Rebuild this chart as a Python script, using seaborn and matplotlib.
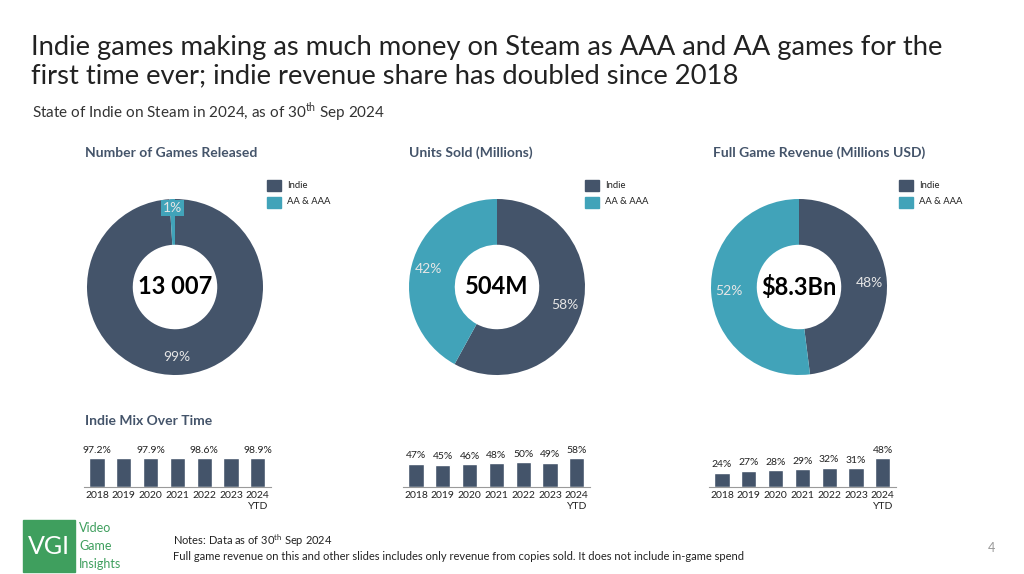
import matplotlib
matplotlib.use("Agg")
import matplotlib.pyplot as plt
import seaborn as sns
import pandas as pd
from matplotlib.patches import Rectangle


# ======================================
# DATA
# ======================================

SEGMENTS = ["Indie", "AA & AAA"]

games_share = [99, 1]
units_share = [58, 42]
revenue_share = [48, 52]

games_total = "13 007"
units_total = "504M"
revenue_total = "$8.3Bn"

YEARS = ["2018", "2019", "2020", "2021", "2022", "2023", "2024\nYTD"]

games_mix = [97.2, 97.6, 97.9, 98.2, 98.6, 98.8, 98.9]
units_mix = [47, 45, 46, 48, 50, 49, 58]
revenue_mix = [24, 27, 28, 29, 32, 31, 48]

# only every other label is printed for the games mix
games_mix_labels = ["97.2%", "", "97.9%", "", "98.6%", "", "98.9%"]
units_mix_labels = [f"{v}%" for v in units_mix]
revenue_mix_labels = [f"{v}%" for v in revenue_mix]


# ======================================
# STYLE
# ======================================

sns.set_style("white")
plt.rcParams["font.family"] = ["Lato", "DejaVu Sans"]
plt.rcParams["mathtext.fontset"] = "custom"
plt.rcParams["mathtext.rm"] = "Lato"

DARK = "#44546A"
TEAL = "#41A3B9"
GREEN = "#3F9F5E"
TEXT = "#222222"

W, H = 1024, 574
fig = plt.figure(figsize=(W / 100, H / 100), dpi=100)


def px_axes(left, top, width, height):
    # axes placed with pixel coordinates (top-left origin)
    return fig.add_axes([left / W, (H - top - height) / H, width / W, height / H])


def fig_text(x, y, s, **kw):
    fig.text(x / W, 1 - y / H, s, **kw)


# ======================================
# TITLES
# ======================================

fig_text(31, 47, "Indie games making as much money on Steam as AAA and AA games for the",
         fontsize=19.7, color=TEXT, va="center")
fig_text(31, 76, "first time ever; indie revenue share has doubled since 2018",
         fontsize=19.7, color=TEXT, va="center")
fig_text(32, 112, r"State of Indie on Steam in 2024, as of 30$^{\mathrm{th}}$ Sep 2024",
         fontsize=11, color="#333333", va="center")


# ======================================
# DONUTS
# ======================================

donuts = [
    (175, "Number of Games Released", games_share, games_total, 85, 267),
    (497, "Units Sold (Millions)", units_share, units_total, 409, 585),
    (799, "Full Game Revenue (Millions USD)", revenue_share, revenue_total, 713, 899),
]

for cx, title, share, total, title_x, legend_x in donuts:
    r = 88
    ax = px_axes(cx - r, 287 - r, 2 * r, 2 * r)
    wedges, autotexts = ax.pie(
        share,
        colors=[DARK, TEAL],
        startangle=90,
        counterclock=False,
        radius=1,
        wedgeprops=dict(width=0.52, edgecolor="none"),
        autopct="%.0f%%",
        pctdistance=0.8,
        textprops=dict(color="#E6E6E6", fontsize=10),
    )[0::2]
    for t, v in zip(autotexts, share):
        if v < 5:
            x, y = t.get_position()
            t.set_position((x * 1.12, y * 1.12))
            t.set_bbox(dict(facecolor=TEAL, edgecolor="none", pad=1.5))
    ax.set_xlim(-1, 1)
    ax.set_ylim(-1, 1)
    ax.set_aspect("equal")
    ax.text(0, 0, total, ha="center", va="center", fontsize=17,
            fontweight="bold", color="black")

    fig_text(title_x, 153, title, fontsize=10, fontweight="bold",
             color=DARK, va="center")

    for i, (name, col) in enumerate(zip(SEGMENTS, [DARK, TEAL])):
        y = 185 + i * 17
        fig.patches.append(Rectangle((legend_x / W, 1 - (y + 5.5) / H),
                                     14 / W, 11 / H, color=col,
                                     transform=fig.transFigure))
        fig_text(legend_x + 20, y, name, fontsize=6.8, color=TEXT, va="center")


# ======================================
# INDIE MIX BARS
# ======================================

fig_text(85, 421, "Indie Mix Over Time", fontsize=10, fontweight="bold",
         color=DARK, va="center")

bar_sets = [
    (97, games_mix, games_mix_labels),
    (416, units_mix, units_mix_labels),
    (722, revenue_mix, revenue_mix_labels),
]

STEP = 26.8
for c0, values, labels in bar_sets:
    ax_h = 45
    ax = px_axes(c0 - STEP / 2, 487 - ax_h, 7 * STEP, ax_h)
    mix_df = pd.DataFrame({"year": YEARS, "share": values})
    sns.barplot(data=mix_df, x="year", y="share", color=DARK,
                saturation=1, width=0.56, ax=ax)
    ax.set_ylim(0, max(values) * ax_h / 29)
    ax.set_xlim(-0.5, 6.5)
    for i, (v, lab) in enumerate(zip(values, labels)):
        ax.annotate(lab, (i, v), xytext=(0, 2.5), textcoords="offset points",
                    ha="center", va="bottom", fontsize=7.5, color=TEXT)
    ax.set_xlabel("")
    ax.set_ylabel("")
    ax.set_yticks([])
    ax.tick_params(axis="x", length=0, pad=3, labelsize=7.5, labelcolor=TEXT)
    for side in ["top", "right", "left"]:
        ax.spines[side].set_visible(False)
    ax.spines["bottom"].set_color("#9A9A9A")
    ax.spines["bottom"].set_linewidth(0.8)
    ax.patch.set_alpha(0)


# ======================================
# FOOTER
# ======================================

fig.patches.append(Rectangle((23 / W, 1 - 572 / H), 52 / W, 52 / H,
                             color=GREEN, transform=fig.transFigure))
fig_text(49, 546, "VGI", fontsize=18, color="white", ha="center", va="center")
for i, word in enumerate(["Video", "Game", "Insights"]):
    fig_text(79, 528 + i * 18, word, fontsize=9, color=GREEN, va="center")

fig_text(173, 541, r"Notes: Data as of 30$^{\mathrm{th}}$ Sep 2024",
         fontsize=8, color=TEXT, va="center")
fig_text(173, 556, "Full game revenue on this and other slides includes only "
         "revenue from copies sold. It does not include in-game spend",
         fontsize=8, color=TEXT, va="center")
fig_text(991, 548, "4", fontsize=9, color="#999999", ha="center", va="center")

fig.savefig("out.png", dpi=100, facecolor="white")
